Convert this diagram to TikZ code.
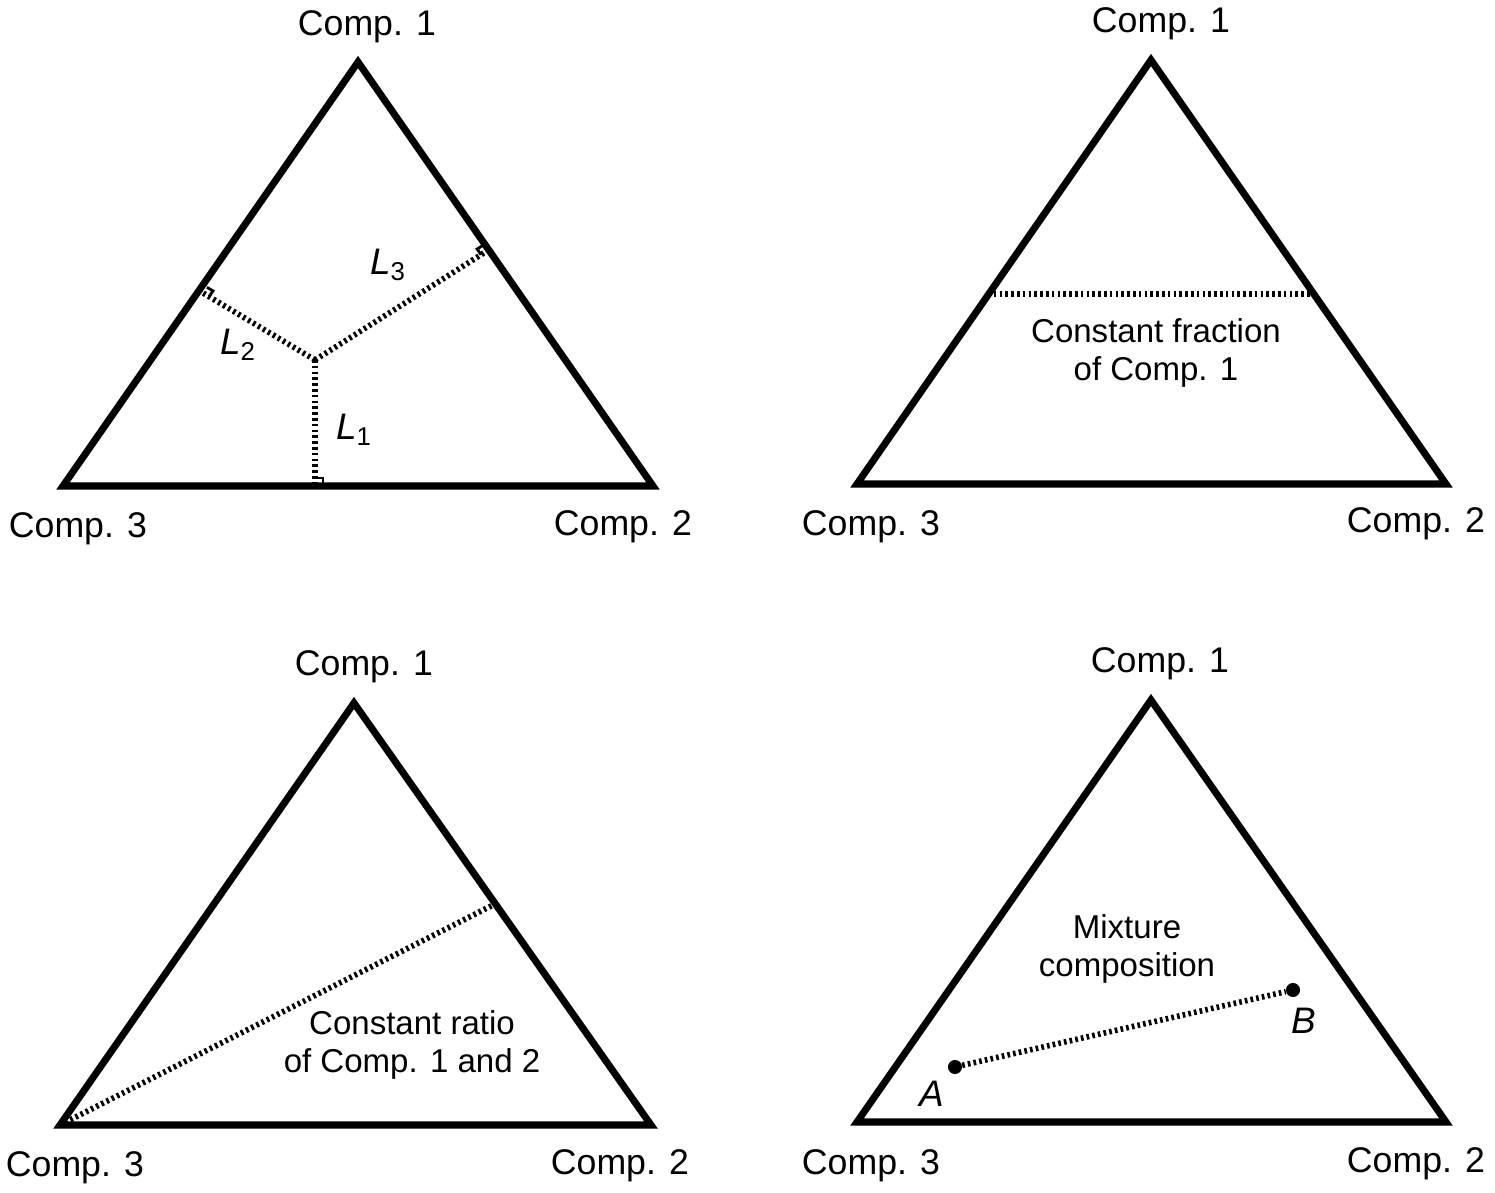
\documentclass[tikz,border=0pt]{standalone}
\usepackage{fontspec}
\setmainfont{Liberation Sans}
\usetikzlibrary{calc}

\tikzset{
  side/.style={line width=4pt, line join=miter, miter limit=20},
  guide/.style={line width=3.2pt, dash pattern=on 1.5pt off 1.8pt},
  rightangle/.style={line width=1.6pt},
  comp/.style={font=\fontsize{20.3}{24}\selectfont, inner sep=0pt},
  note/.style={font=\fontsize{18.8}{21.5}\selectfont, align=center, inner sep=0pt},
  lab/.style={font=\fontsize{21}{25}\selectfont\itshape, inner sep=0pt},
  dot/.style={circle, fill=black, inner sep=0pt, minimum size=8pt},
}

\begin{document}
\begin{tikzpicture}[x=0.02cm, y=-0.02cm]
      \useasboundingbox (0,0) rectangle (1495,1193);

      % top left: distances to the sides
      \coordinate (a1) at (358,62);
      \coordinate (a3) at (63,486);
      \coordinate (a2) at (653,486);
      \draw[side] (a1) -- (a2) -- (a3) -- cycle;
      \node[comp] (a1lab) at (367,27) {Comp. 1};
      \node[comp] (a3lab) at (78,529) {Comp. 3};
      \node[comp] (a2lab) at (623,527) {Comp. 2};
      \coordinate (p) at (315,360);
      \coordinate (f1) at (315,486);
      \coordinate (f2) at (203,293);
      \coordinate (f3) at (487,251);
      \draw[guide] (p) -- (f1);
      \draw[guide] (p) -- (f2);
      \draw[guide] (p) -- (f3);
      \draw[rightangle] ($(f1)+(0,-8)$) -| ($(f1)+(8,0)$);
      \draw[rightangle] ($(f2)+(6,3.6)$) -- ($(f2)+(10,-2.1)$) -- ($(f2)+(4,-5.7)$);
      \draw[rightangle] ($(f3)+(-5.9,3.7)$) -- ($(f3)+(-9.9,-2)$) -- ($(f3)+(-4,-5.7)$);
      \node[lab] (l1) at (354,430) {L\textsubscript{\upshape 1}};
      \node[lab] (l2) at (238,345) {L\textsubscript{\upshape 2}};
      \node[lab] (l3) at (388,265) {L\textsubscript{\upshape 3}};

      % top right: constant fraction
      \coordinate (b1) at (1151,60);
      \coordinate (b3) at (857,484);
      \coordinate (b2) at (1446,484);
      \draw[side] (b1) -- (b2) -- (b3) -- cycle;
      \node[comp] (b1lab) at (1161,24) {Comp. 1};
      \node[comp] (b3lab) at (871,527) {Comp. 3};
      \node[comp] (b2lab) at (1416,524) {Comp. 2};
      \coordinate (bl) at (988,294);
      \coordinate (br) at (1314,294);
      \draw[guide] (bl) -- (br);
      \node[note] (bnote) at (1156,353) {Constant fraction\\of Comp. 1};

      % bottom left: constant ratio
      \coordinate (c1) at (354,703);
      \coordinate (c3) at (60,1125);
      \coordinate (c2) at (651,1125);
      \draw[side] (c1) -- (c2) -- (c3) -- cycle;
      \node[comp] (c1lab) at (364,667) {Comp. 1};
      \node[comp] (c3lab) at (75,1168) {Comp. 3};
      \node[comp] (c2lab) at (620,1166) {Comp. 2};
      \coordinate (cr) at (493,905);
      \draw[guide] (c3) -- (cr);
      \node[note] (cnote) at (412,1045) {Constant ratio\\of Comp. 1 and 2};

      % bottom right: mixing
      \coordinate (d1) at (1151,700);
      \coordinate (d3) at (857,1122);
      \coordinate (d2) at (1446,1122);
      \draw[side] (d1) -- (d2) -- (d3) -- cycle;
      \node[comp] (d1lab) at (1160,664) {Comp. 1};
      \node[comp] (d3lab) at (871,1166) {Comp. 3};
      \node[comp] (d2lab) at (1416,1164) {Comp. 2};
      \node[dot] (ptA) at (955,1067) {};
      \node[dot] (ptB) at (1293,990) {};
      \draw[guide] (ptA) -- (ptB);
      \node[lab] (labA) at (932,1094) {A};
      \node[lab] (labB) at (1304,1021) {B};
      \node[note] (dnote) at (1127,949) {Mixture\\composition};
    \end{tikzpicture}
\end{document}
